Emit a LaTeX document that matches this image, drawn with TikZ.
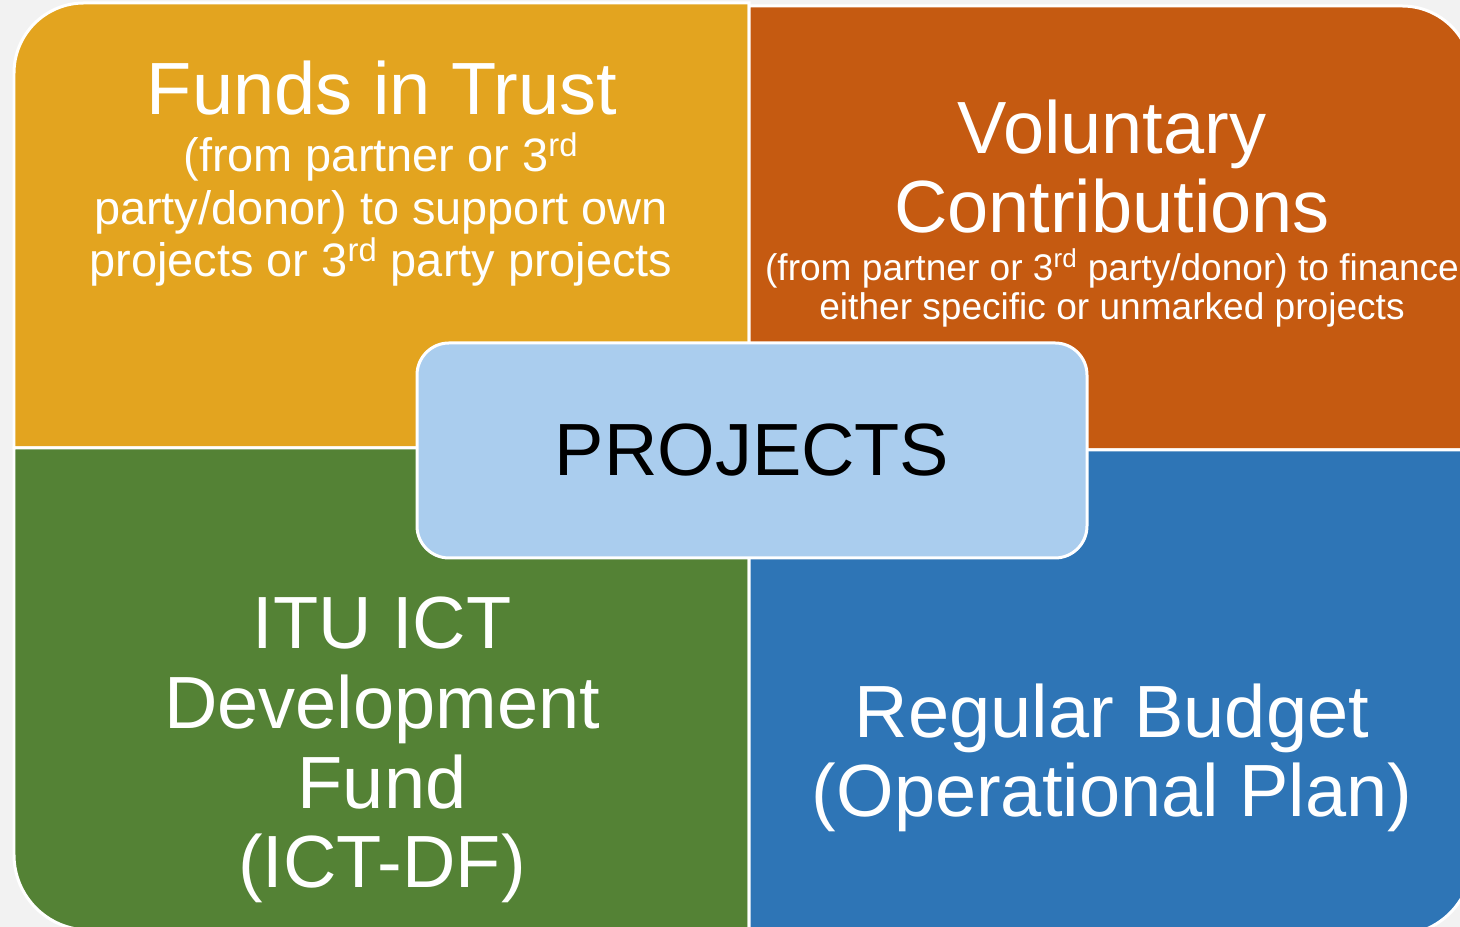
\documentclass[tikz,border=0pt]{standalone}
\usepackage{fontspec}
\setmainfont{Liberation Sans}
\usepackage{tikz}
\usetikzlibrary{positioning}
\definecolor{bgGray}{HTML}{F2F2F2}
\definecolor{fitGold}{HTML}{E3A41F}
\definecolor{vcOrange}{HTML}{C55A11}
\definecolor{ictGreen}{HTML}{548235}
\definecolor{rbBlue}{HTML}{2E75B6}
\definecolor{projBlue}{HTML}{AACDEE}
\tikzset{
quad/.style={draw=white,line width=0.06cm},
bigtxt/.style={text=white,align=center,anchor=base,inner sep=0pt,font=\fontsize{42.1}{45.5}\selectfont},
subtxt/.style={text=white,align=center,anchor=base,inner sep=0pt,font=\fontsize{26.7}{29.9}\selectfont},
smalltxt/.style={text=white,align=center,anchor=base,inner sep=0pt,font=\fontsize{21.1}{22.5}\selectfont}
}
\begin{document}
\begin{tikzpicture}
\fill[bgGray] (0,0) rectangle (29.2,18.54);
\useasboundingbox (0,0) rectangle (29.2,18.54);
% the four funding sources
\filldraw[quad,fill=fitGold] (14.98,9.58) -- (0.28,9.58) [rounded corners=1.4cm] -- (0.28,18.48) [sharp corners] -- (14.98,18.48) -- cycle;
\filldraw[quad,fill=vcOrange] (14.98,18.42) [rounded corners=1.4cm] -- (29.44,18.42) [sharp corners] -- (29.44,9.54) -- (14.98,9.54) -- cycle;
\filldraw[quad,fill=ictGreen] (14.98,9.58) -- (0.28,9.58) [rounded corners=1.5cm] -- (0.28,-0.06) [sharp corners] -- (14.98,-0.06) -- cycle;
\filldraw[quad,fill=rbBlue] (14.98,9.54) -- (29.44,9.54) [rounded corners=1.5cm] -- (29.44,-0.16) [sharp corners] -- (14.98,-0.16) -- cycle;
% labels (base = last line)
\node at (7.64,16.24)[bigtxt](fitTitle){Funds in Trust};
\node at (7.62,13.0)[subtxt](fitSub){(from partner or 3\textsuperscript{rd}\\party/donor) to support own\\projects or 3\textsuperscript{rd} party projects};
\node at (22.24,13.88)[bigtxt](vcTitle){Voluntary\\Contributions};
\node at (22.24,12.14)[smalltxt](vcSub){(from partner or 3\textsuperscript{rd} party/donor) to finance\\either specific or unmarked projects};
\node at (7.64,0.78)[bigtxt](ictTitle){ITU ICT\\Development\\Fund\\(ICT-DF)};
\node at (22.24,2.2)[bigtxt](rbTitle){Regular Budget\\(Operational Plan)};
% centre box
\node at (15.04,9.53)[rectangle,rounded corners=0.64cm,minimum width=13.4cm,minimum height=4.3cm,draw=white,line width=0.06cm,fill=projBlue,text=black,font=\fontsize{42.1}{45.5}\selectfont](projects){PROJECTS};
\end{tikzpicture}
\end{document}
